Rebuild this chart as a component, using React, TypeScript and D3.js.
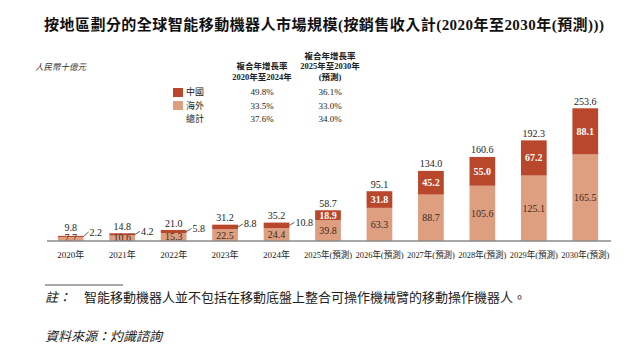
import React from 'react'
import * as d3 from 'd3'

const years = ['2020年', '2021年', '2022年', '2023年', '2024年', '2025年(預測)', '2026年(預測)', '2027年(預測)', '2028年(預測)', '2029年(預測)', '2030年(預測)']
const overseas = [7.7, 10.6, 15.3, 22.5, 24.4, 39.8, 63.3, 88.7, 105.6, 125.1, 165.5]
const china = [2.2, 4.2, 5.8, 8.8, 10.8, 18.9, 31.8, 45.2, 55.0, 67.2, 88.1]
const totals = [9.8, 14.8, 21.0, 31.2, 35.2, 58.7, 95.1, 134.0, 160.6, 192.3, 253.6]

const legendNames = ['中國', '海外', '總計']
const cagrHist = ['49.8%', '33.5%', '37.6%']
const cagrFcst = ['36.1%', '33.0%', '34.0%']

const title = '按地區劃分的全球智能移動機器人市場規模(按銷售收入計(2020年至2030年(預測)))'
const unit = '人民幣十億元'
const note = '智能移動機器人並不包括在移動底盤上整合可操作機械臂的移動操作機器人。'
const source = '資料來源：灼識諮詢'

const CHINA = '#b9472c'
const OVERSEAS = '#de9f80'
const FONT = '"Liberation Serif", "Noto Sans CJK TC", serif'

const width = 640
const height = 360
const base = 241

const App = () => {
  const x = d3.scaleBand().domain(years).range([45, 611]).paddingInner(0.5).paddingOuter(0.25)
  const y = d3.scaleLinear().domain([0, 300]).range([base, 84])
  const bw = x.bandwidth()

  // china segments too thin for a label get it outside with a leader line
  const outside = (i) => y(0) - y(china[i]) < 8

  return (
    <svg width={width} height={height} style={{ position: 'absolute', left: 0, top: 0, background: '#fff' }} fontFamily={FONT}>
      <text x={44} y={30} fontSize={15} fontWeight="bold" fill="#111" textLength={560}>{title}</text>

      <text x={35} y={70} fontSize={8.5} fontStyle="italic" fill="#333">{unit}</text>

      {/* legend + cagr table */}
      <g fontSize={9} fill="#222">
        <rect x={173} y={88} width={10} height={9} fill={CHINA} />
        <rect x={173} y={101} width={10} height={9} fill={OVERSEAS} />
        {legendNames.map((n, i) => (
          <text key={n} x={186} y={95 + i * 13.5}>{n}</text>
        ))}
        <g fontWeight="bold" textAnchor="middle" fontSize={8.5}>
          <text x={262} y={69}>複合年增長率</text>
          <text x={262} y={80}>2020年至2024年</text>
          <text x={330} y={59}>複合年增長率</text>
          <text x={330} y={69}>2025年至2030年</text>
          <text x={330} y={80}>(預測)</text>
        </g>
        {cagrHist.map((v, i) => (
          <text key={'h' + i} x={262} y={95 + i * 13.5} textAnchor="middle">{v}</text>
        ))}
        {cagrFcst.map((v, i) => (
          <text key={'f' + i} x={330} y={95 + i * 13.5} textAnchor="middle">{v}</text>
        ))}
      </g>

      {/* bars */}
      {years.map((yr, i) => {
        const x0 = x(yr)
        const cx = x0 + bw / 2
        const ovTop = y(overseas[i])
        const top = y(totals[i])
        const chinaMid = (top + ovTop) / 2
        const ovMid = Math.min((base + ovTop) / 2, base - 3.5)
        const labY = Math.min(chinaMid - 3, base - 9)
        const fc = yr.length > 5
        return (
          <g key={yr} fontSize={10}>
            <rect x={x0} y={ovTop} width={bw} height={base - ovTop} fill={OVERSEAS} />
            <rect x={x0} y={top} width={bw} height={ovTop - top} fill={CHINA} />
            <text x={cx} y={Math.min(top - 3.5, base - 10.5)} textAnchor="middle" fill="#222">{totals[i].toFixed(1)}</text>
            <text x={cx} y={ovMid} dy="0.35em" textAnchor="middle" fill="#3a2a22">{overseas[i].toFixed(1)}</text>
            {outside(i) ? (
              <g>
                <line x1={x0 + bw} y1={chinaMid} x2={x0 + bw + 5} y2={labY} stroke="#333" strokeWidth={0.8} />
                <text x={x0 + bw + 6} y={labY} dy="0.35em" fill="#222">{china[i].toFixed(1)}</text>
              </g>
            ) : (
              <text x={cx} y={chinaMid} dy="0.35em" textAnchor="middle" fill="#fff" fontWeight="bold">{china[i].toFixed(1)}</text>
            )}
            <text x={cx} y={258} textAnchor="middle" fill="#222" fontSize={9}
              textLength={fc ? 48 : undefined} lengthAdjust="spacingAndGlyphs">{yr}</text>
          </g>
        )
      })}
      <line x1={47} x2={611} y1={base} y2={base} stroke="#8a8a8a" strokeWidth={1.5} />

      {/* footnotes */}
      <line x1={45} x2={123} y1={285} y2={285} stroke="#555" strokeWidth={1} />
      <text x={45} y={302} fontSize={13} fontStyle="italic" fill="#222">註：</text>
      <text x={84} y={302} fontSize={13} fill="#222">{note}</text>
      <text x={45} y={341} fontSize={13} fontStyle="italic" fill="#222">{source}</text>
    </svg>
  )
}

export default App
